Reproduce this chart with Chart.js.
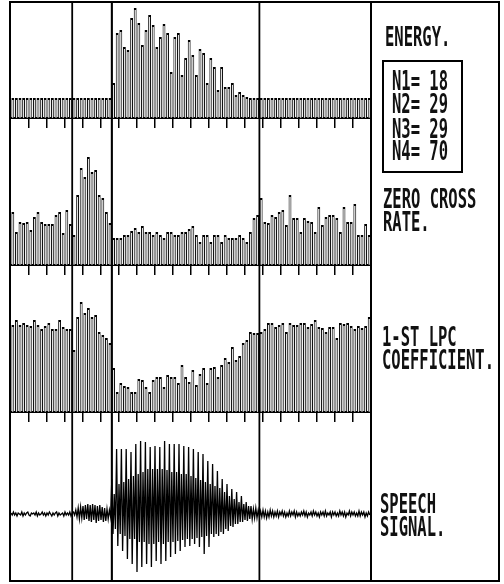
<!DOCTYPE html>
<html>
<head>
<meta charset="utf-8">
<script src="https://cdn.jsdelivr.net/npm/chart.js"></script>
<style>
  body { margin: 0; background: #fff; }
  #wrap { position: relative; width: 504px; height: 584px; overflow: hidden; }
  canvas { position: absolute; }
  .box { position: absolute; border: 2px solid #000; box-sizing: border-box; }
  .bar { position: absolute; background: #000; }
  .lbl {
    position: absolute;
    font: bold 15.5px "DejaVu Sans Mono", monospace;
    line-height: 13.3px;
    white-space: pre;
    color: #111;
    transform: scaleY(1.75);
    transform-origin: 0 0;
  }
</style>
</head>
<body>
<div id="wrap">
  <canvas id="energyChart" width="360" height="126" style="left:11px;top:2px"></canvas>
  <canvas id="zcrChart" width="360" height="157" style="left:11px;top:118px"></canvas>
  <canvas id="lpcChart" width="360" height="157" style="left:11px;top:265px"></canvas>
  <canvas id="speechChart" width="360" height="168" style="left:11px;top:412px"></canvas>

  <div class="box" style="left:9px;top:1px;width:491px;height:581px"></div>
  <div class="bar" style="left:370px;top:1px;width:2px;height:581px"></div>
  <div class="box" style="left:382px;top:60px;width:81px;height:113px"></div>

  <div class="lbl" id="t0" style="left:385px;top:27px"></div>
  <div class="lbl" id="nText" style="left:392px;top:70.5px"></div>
  <div class="lbl" id="t1" style="left:383px;top:189px"></div>
  <div class="lbl" id="t2" style="left:382px;top:327px"></div>
  <div class="lbl" id="t3" style="left:380px;top:494px"></div>
</div>

<script>
// panel titles (right column)
const panelTitles = ['ENERGY.', 'ZERO CROSS\nRATE.', '1-ST LPC\nCOEFFICIENT.', 'SPEECH\nSIGNAL.'];

// segment boundaries
const nNames = ['N1', 'N2', 'N3', 'N4'];
const nValues = [18, 29, 29, 70];

// tick marks every 5 frames
const tickFrames = [5, 10, 15, 20, 25, 30, 35, 40, 45, 50, 55, 60, 65, 70, 75, 80, 85, 90, 95];

// short-time energy, 100 frames
const energy = [
  20, 20, 20, 20, 20, 20, 20, 20, 20, 20, 20, 20, 20, 20, 20, 20, 20, 20, 20, 20,
  20, 20, 20, 20, 20, 20, 20, 20, 35, 85, 88, 71, 68, 100, 110, 95, 73, 88, 103, 93,
  71, 81, 94, 85, 46, 81, 85, 43, 60, 78, 63, 43, 69, 65, 35, 60, 51, 28, 51, 31,
  31, 35, 23, 26, 23, 21, 20, 20, 20, 20, 20, 20, 20, 20, 20, 20, 20, 20, 20, 20,
  20, 20, 20, 20, 20, 20, 20, 20, 20, 20, 20, 20, 20, 20, 20, 20, 20, 20, 20, 20
];

// zero crossing rate, 100 frames
const zeroCross = [
  53, 33, 43, 42, 43, 35, 48, 53, 43, 41, 41, 41, 50, 53, 32, 55, 41, 30, 70, 97,
  88, 108, 93, 95, 70, 67, 53, 42, 27, 27, 27, 30, 30, 34, 37, 33, 39, 33, 33, 30,
  33, 30, 27, 33, 33, 30, 30, 33, 33, 36, 39, 30, 23, 30, 30, 23, 30, 30, 23, 30,
  27, 27, 27, 30, 27, 23, 33, 47, 50, 67, 43, 42, 50, 48, 53, 55, 40, 70, 47, 47,
  33, 47, 44, 43, 33, 58, 40, 48, 50, 50, 47, 33, 58, 43, 43, 61, 30, 30, 41, 30
];

// first LPC coefficient, 100 frames
const lpc1 = [
  87, 92, 87, 89, 87, 86, 92, 87, 83, 86, 89, 83, 83, 92, 85, 83, 83, 62, 95, 110,
  99, 104, 95, 97, 80, 77, 74, 69, 44, 20, 29, 26, 25, 20, 20, 33, 32, 25, 20, 32,
  35, 35, 25, 37, 35, 35, 29, 47, 35, 30, 42, 27, 38, 44, 29, 44, 45, 35, 47, 54,
  50, 65, 52, 56, 69, 72, 80, 79, 79, 80, 83, 89, 89, 85, 87, 89, 80, 89, 87, 87,
  89, 89, 85, 88, 92, 85, 84, 80, 85, 85, 74, 89, 88, 89, 86, 83, 86, 84, 86, 95
];

// speech waveform, 3 samples per frame (300 samples)
const speech = [
  // frames 0-18: silence
  1, -1, 2, -1, 1, -2, 1, 0, -1, 2, -2, 1, -1, 1, 2, -1, -2, 1,
  0, 1, -1, 2, -2, 1, -1, 0, 2, -1, 1, -2, 1, -1, 2, 0, -2, 1,
  -1, 1, 2, -2, 1, -1, 0, 1, -2, 2, -1, 1, -1, 2, -2, 1, 2, -1,
  // frames 18-28: unvoiced
  4, -3, 6, -5, 7, -4, 8, -6, 9, -5, 10, -7, 9, -8, 10,
  -6, 9, -9, 8, -7, 9, -6, 7, -8, 6, -7, 5, -5, 4, -3,
  // frames 28-70: voiced
  35, -20, 20, -15, 65, -32, 30, -20, 65, -37, 32, -22, 65, -45, 35, -25,
  62, -50, 38, -25, 70, -58, 40, -28, 73, -53, 42, -28, 72, -50, 45, -30,
  67, -53, 45, -30, 68, -47, 45, -28, 67, -50, 45, -30, 73, -47, 44, -28,
  70, -43, 42, -28, 70, -40, 42, -27, 70, -37, 40, -26, 68, -33, 40, -25,
  67, -32, 38, -25, 65, -30, 36, -24, 62, -33, 34, -23, 60, -40, 32, -22,
  53, -33, 30, -20, 50, -23, 28, -20, 43, -22, 26, -18, 35, -20, 22, -15,
  30, -17, 18, -12, 25, -13, 15, -10, 22, -10, 12, -8, 18, -8, 10, -6,
  12, -7, 8, -5, 8, -5, 5, -4, 6, -4, 4, -3, 3, -3,
  // frames 70-100: silence
  4, -3, 3, -4, 2, -3, 4, -2, 3, -3, 2, -2, 3, -3, 2, -1, 3, -2, 2, -3, 1, -2, 3, -2, 2, -1, 3, -3, 2, -2,
  1, -2, 2, -1, 3, -2, 2, -3, 1, -1, 2, -2, 3, -1, 2, -2, 1, -3, 2, -1, 2, -2, 3, -2, 1, -1, 2, -3, 2, -1,
  2, -2, 1, -2, 3, -1, 2, -2, 2, -3, 1, -1, 3, -2, 2, -1, 2, -2, 1, -2, 3, -2, 2, -1, 2, -3, 1, -2, 2, -1
];

// text column
panelTitles.forEach((t, i) => { document.getElementById('t' + i).textContent = t; });
document.getElementById('nText').textContent =
  nNames.map((n, i) => n + '= ' + nValues[i]).join('\n');

// vertical lines at the start of frame N
const boundaryLines = {
  id: 'boundaryLines',
  beforeDatasetsDraw(chart) {
    const { ctx, chartArea, scales } = chart;
    ctx.save();
    ctx.strokeStyle = '#000';
    ctx.lineWidth = 1.8;
    nValues.forEach(n => {
      const x = scales.x.getPixelForValue(n - 1);
      ctx.beginPath();
      ctx.moveTo(x, chartArea.top);
      ctx.lineTo(x, chartArea.bottom);
      ctx.stroke();
    });
    ctx.restore();
  }
};

function panelOptions(yMin, yMax, showTicks) {
  return {
    responsive: false,
    animation: false,
    events: [],
    layout: { padding: 0 },
    plugins: { legend: { display: false }, tooltip: { enabled: false } },
    scales: {
      x: {
        type: 'linear',
        min: 0,
        max: 100,
        offset: false,
        display: showTicks,
        afterBuildTicks: axis => { axis.ticks = tickFrames.map(v => ({ value: v })); },
        ticks: { display: false },
        grid: { offset: false, drawOnChartArea: false, drawTicks: true, tickLength: 10, color: '#000', lineWidth: 1.5 },
        border: { display: true, color: '#000', width: 2 }
      },
      y: { display: false, min: yMin, max: yMax }
    }
  };
}

function barPanel(id, values, yMax) {
  return new Chart(document.getElementById(id), {
    type: 'bar',
    data: {
      datasets: [{
        data: values.map((v, i) => ({ x: i + 0.5, y: v })),
        backgroundColor: '#e4e4e4',
        borderColor: '#000',
        borderWidth: { top: 2, left: 1, right: 1, bottom: 0 },
        borderSkipped: false,
        barPercentage: 0.8,
        categoryPercentage: 1
      }]
    },
    options: panelOptions(0, yMax, true),
    plugins: [boundaryLines]
  });
}

barPanel('energyChart', energy, 116);
barPanel('zcrChart', zeroCross, 147);
barPanel('lpcChart', lpc1, 147);

new Chart(document.getElementById('speechChart'), {
  type: 'line',
  data: {
    datasets: [{
      data: speech.map((v, i) => ({ x: i / 3, y: v })),
      borderColor: '#000',
      borderWidth: 1.3,
      pointRadius: 0,
      tension: 0,
      fill: false
    }]
  },
  options: panelOptions(-66, 102, false),
  plugins: [boundaryLines]
});
</script>
</body>
</html>
